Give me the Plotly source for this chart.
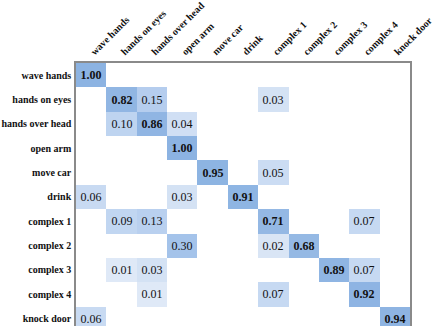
import numpy as np
import plotly.graph_objects as go

classes = ["wave hands", "hands on eyes", "hands over head", "open arm", "move car",
           "drink", "complex 1", "complex 2", "complex 3", "complex 4", "knock door"]

# Non-zero entries of the confusion matrix per true class: {predicted column: rate}
row_wave_hands = {0: 1.00}
row_hands_on_eyes = {1: 0.82, 2: 0.15, 6: 0.03}
row_hands_over_head = {1: 0.10, 2: 0.86, 3: 0.04}
row_open_arm = {3: 1.00}
row_move_car = {4: 0.95, 6: 0.05}
row_drink = {0: 0.06, 3: 0.03, 5: 0.91}
row_complex_1 = {1: 0.09, 2: 0.13, 6: 0.71, 9: 0.07}
row_complex_2 = {3: 0.30, 6: 0.02, 7: 0.68}
row_complex_3 = {1: 0.01, 2: 0.03, 8: 0.89, 9: 0.07}
row_complex_4 = {2: 0.01, 6: 0.07, 9: 0.92}
row_knock_door = {0: 0.06, 10: 0.94}

rows = [row_wave_hands, row_hands_on_eyes, row_hands_over_head, row_open_arm,
        row_move_car, row_drink, row_complex_1, row_complex_2, row_complex_3,
        row_complex_4, row_knock_door]

n = len(classes)
z = np.full((n, n), np.nan)
text = [["" for _ in range(n)] for _ in range(n)]
for i, r in enumerate(rows):
    for j, v in r.items():
        z[i, j] = v
        s = f"{v:.2f}"
        text[i][j] = f"<b>{s}</b>" if i == j else s

colorscale = [
    [0.0, "#E4ECF8"], [0.02, "#D9E5F5"], [0.05, "#CBDCF3"], [0.1, "#BED4F0"],
    [0.15, "#B5CDEE"], [0.3, "#A4C3EA"], [0.7, "#94B8E4"], [1.0, "#8CB3E2"],
]

fig = go.Figure(go.Heatmap(
    z=z, x=list(range(n)), y=list(range(n)),
    text=text, texttemplate="%{text}",
    textfont=dict(family="Liberation Serif", size=12, color="#111111"),
    colorscale=colorscale, zmin=0, zmax=1, showscale=False,
    hoverinfo="skip",
))

fig.update_layout(
    width=434, height=326,
    margin=dict(l=76, r=17, t=54, b=0),
    paper_bgcolor="white", plot_bgcolor="white",
    font=dict(family="Liberation Serif", color="#111111"),
)
fig.update_xaxes(
    side="top", tickmode="array", tickvals=list(range(n)),
    ticktext=[f"<b>{c}</b>" for c in classes], tickangle=-45,
    tickfont=dict(size=10), range=[-0.5, n - 0.5],
    ticklabeloverflow="allow",
    showgrid=False, zeroline=False, ticks="",
    showline=True, linecolor="#8a8a8a", linewidth=1.5,
)
fig.update_yaxes(
    tickmode="array", tickvals=list(range(n)),
    ticktext=[f"<b>{c}</b>" for c in classes],
    tickfont=dict(size=10), range=[10.3, -0.5],
    ticklabeloverflow="allow",
    showgrid=False, zeroline=False, ticks="", ticklabelstandoff=1,
    showline=True, mirror=True, linecolor="#8a8a8a", linewidth=1.5,
)

fig.write_html("out.html")
